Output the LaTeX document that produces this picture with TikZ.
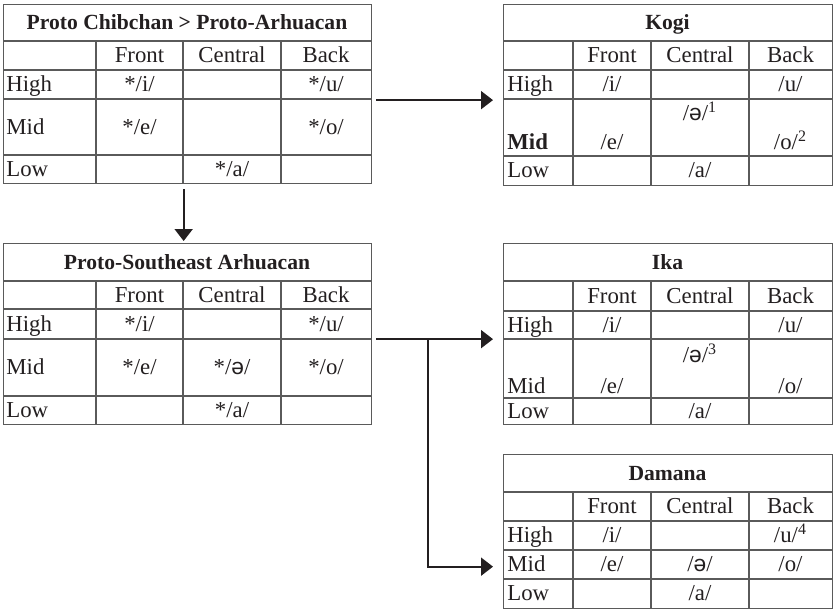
\documentclass[tikz,border=0pt]{standalone}
\usepackage{fontspec}
\setmainfont{Liberation Serif}
\newfontfamily\ipafont{Liberation Sans}
\usepackage{tikz}
\usetikzlibrary{arrows.meta}
\usepackage{xcolor}
\definecolor{tabgray}{RGB}{90,90,90}
\definecolor{inkblack}{RGB}{35,31,32}
\newcommand{\schwa}{{\ipafont ə}}

\begin{document}
\begin{tikzpicture}[
    x=0.5pt, y=-0.5pt,
    frame/.style={draw=tabgray, line width=0.65pt, inner sep=0pt, anchor=north west},
    gridline/.style={tabgray, line width=0.65pt},
    cell/.style={font=\fontsize{11.4}{13}\selectfont, text=inkblack, inner sep=0pt, text height=7.4pt, text depth=0pt},
    rowlab/.style={cell, anchor=west},
    head/.style={cell, font=\fontsize{10.8}{13}\selectfont\bfseries},
    arrow/.style={-{Triangle[length=6pt, width=9pt]}, line width=1pt, inkblack}
]
\useasboundingbox (0,0) rectangle (834,609);

% Proto Chibchan > Proto-Arhuacan
\node[frame, minimum width=184pt, minimum height=89.5pt] (pca) at (3,4) {};
\foreach \y in {41,70,99,155} \draw[gridline] (3,\y) -- (371,\y);
\foreach \x in {96,183,281} \draw[gridline] (\x,41) -- (\x,183);
\node[head] (pca-title) at (187,22.5) {Proto Chibchan > Proto-Arhuacan};
\node[cell] (pca-front) at (139.5,55.5) {Front};
\node[cell] (pca-central) at (232,55.5) {Central};
\node[cell] (pca-back) at (326,55.5) {Back};
\node[rowlab] (pca-high) at (6,84.5) {High};
\node[cell] (pca-i) at (139.5,84.5) {*/i/};
\node[cell] (pca-u) at (326,84.5) {*/u/};
\node[rowlab] (pca-mid) at (6,127) {Mid};
\node[cell] (pca-e) at (139.5,127) {*/e/};
\node[cell] (pca-o) at (326,127) {*/o/};
\node[rowlab] (pca-low) at (6,169) {Low};
\node[cell] (pca-a) at (232,169) {*/a/};

% Proto-Southeast Arhuacan
\node[frame, minimum width=184pt, minimum height=90.5pt] (psa) at (3,243) {};
\foreach \y in {281,309,339,396} \draw[gridline] (3,\y) -- (371,\y);
\foreach \x in {96,183,281} \draw[gridline] (\x,281) -- (\x,424);
\node[head] (psa-title) at (187,262) {Proto-Southeast Arhuacan};
\node[cell] (psa-front) at (139.5,295) {Front};
\node[cell] (psa-central) at (232,295) {Central};
\node[cell] (psa-back) at (326,295) {Back};
\node[rowlab] (psa-high) at (6,324) {High};
\node[cell] (psa-i) at (139.5,324) {*/i/};
\node[cell] (psa-u) at (326,324) {*/u/};
\node[rowlab] (psa-mid) at (6,367.5) {Mid};
\node[cell] (psa-e) at (139.5,367.5) {*/e/};
\node[cell] (psa-schwa) at (232,367.5) {*/\schwa/};
\node[cell] (psa-o) at (326,367.5) {*/o/};
\node[rowlab] (psa-low) at (6,410) {Low};
\node[cell] (psa-a) at (232,410) {*/a/};

% Kogi
\node[frame, minimum width=164.5pt, minimum height=90.5pt] (kogi) at (503,4) {};
\foreach \y in {41,70,99,156} \draw[gridline] (503,\y) -- (832,\y);
\foreach \x in {573,651,749} \draw[gridline] (\x,41) -- (\x,185);
\node[head] (kogi-title) at (667.5,22.5) {Kogi};
\node[cell] (kogi-front) at (612,55.5) {Front};
\node[cell] (kogi-central) at (700,55.5) {Central};
\node[cell] (kogi-back) at (790.5,55.5) {Back};
\node[rowlab] (kogi-high) at (507,84.5) {High};
\node[cell] (kogi-i) at (612,84.5) {/i/};
\node[cell] (kogi-u) at (790.5,84.5) {/u/};
\node[cell] (kogi-schwa) at (700,113) {/\schwa/\textsuperscript{1}};
\node[rowlab, font=\fontsize{11.4}{13}\selectfont\bfseries] (kogi-mid) at (507,142) {Mid};
\node[cell] (kogi-e) at (612,142) {/e/};
\node[cell] (kogi-o) at (790.5,142) {/o/\textsuperscript{2}};
\node[rowlab] (kogi-low) at (507,170.5) {Low};
\node[cell] (kogi-a) at (700,170.5) {/a/};

% Ika
\node[frame, minimum width=164.5pt, minimum height=90.5pt] (ika) at (503,243) {};
\foreach \y in {281,311,339,398} \draw[gridline] (503,\y) -- (832,\y);
\foreach \x in {573,651,749} \draw[gridline] (\x,281) -- (\x,424);
\node[head] (ika-title) at (667.5,262) {Ika};
\node[cell] (ika-front) at (612,296) {Front};
\node[cell] (ika-central) at (700,296) {Central};
\node[cell] (ika-back) at (790.5,296) {Back};
\node[rowlab] (ika-high) at (507,325) {High};
\node[cell] (ika-i) at (612,325) {/i/};
\node[cell] (ika-u) at (790.5,325) {/u/};
\node[cell] (ika-schwa) at (700,355) {/\schwa/\textsuperscript{3}};
\node[rowlab] (ika-mid) at (507,386) {Mid};
\node[cell] (ika-e) at (612,386) {/e/};
\node[cell] (ika-o) at (790.5,386) {/o/};
\node[rowlab] (ika-low) at (507,411) {Low};
\node[cell] (ika-a) at (700,411) {/a/};

% Damana
\node[frame, minimum width=164.5pt, minimum height=77pt] (damana) at (503,454) {};
\foreach \y in {492,521,550,579} \draw[gridline] (503,\y) -- (832,\y);
\foreach \x in {573,651,749} \draw[gridline] (\x,492) -- (\x,608);
\node[head] (damana-title) at (667.5,473) {Damana};
\node[cell] (damana-front) at (612,506.5) {Front};
\node[cell] (damana-central) at (700,506.5) {Central};
\node[cell] (damana-back) at (790.5,506.5) {Back};
\node[rowlab] (damana-high) at (507,535.5) {High};
\node[cell] (damana-i) at (612,535.5) {/i/};
\node[cell] (damana-u) at (790.5,535.5) {/u/\textsuperscript{4}};
\node[rowlab] (damana-mid) at (507,564.5) {Mid};
\node[cell] (damana-e) at (612,564.5) {/e/};
\node[cell] (damana-schwa) at (700,564.5) {/\schwa/};
\node[cell] (damana-o) at (790.5,564.5) {/o/};
\node[rowlab] (damana-low) at (507,593.5) {Low};
\node[cell] (damana-a) at (700,593.5) {/a/};

% arrows
\draw[arrow, shorten <=2pt, shorten >=5pt] ([yshift=-3pt]pca.east) -- ([yshift=-3pt]pca.east -| kogi.west);
\draw[arrow, shorten <=2.5pt, shorten >=1pt] ([xshift=-2pt]pca.south) -- ([xshift=-2pt]pca.south |- psa.north);
\draw[arrow, shorten <=2pt, shorten >=5pt] ([yshift=-2.5pt]psa.east) -- ([yshift=-2.5pt]psa.east -| ika.west);
\coordinate (split) at ([xshift=28pt, yshift=-2.5pt]psa.east);
\draw[arrow, shorten >=5pt] (split) |- ([yshift=-17.5pt]damana.west);
\end{tikzpicture}
\end{document}
